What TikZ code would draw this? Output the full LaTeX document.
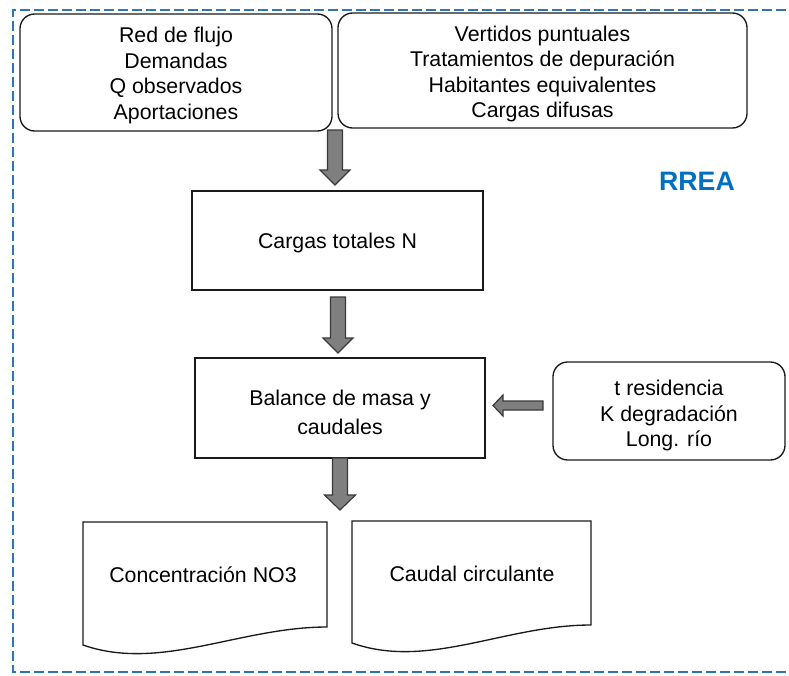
\documentclass[tikz,border=0pt]{standalone}
\usepackage{fontspec}
\setmainfont{Liberation Sans}
\definecolor{frameblue}{HTML}{2E75B6}
\definecolor{titleblue}{HTML}{0070C0}
\definecolor{arrowgray}{HTML}{7F7F7F}
\definecolor{arrowedge}{HTML}{3A3A3A}
\definecolor{linegray}{HTML}{1A1A1A}
\begin{document}
\begin{tikzpicture}[x=0.75pt,y=-0.75pt,
  every node/.style={font=\fontsize{16}{19.1}\selectfont, align=center, inner sep=0pt},
  sz/.style 2 args={minimum width=#1*0.75pt, minimum height=#2*0.75pt},
  card/.style={draw=linegray, line width=1pt, rounded corners=11pt},
  plainbox/.style={draw=linegray, line width=1pt},
  blockarrow/.style={fill=arrowgray, draw=arrowedge, line width=0.9pt, line join=miter},
  frame/.style={draw=frameblue, line width=2pt, dash pattern=on 7.5pt off 3pt}]
\useasboundingbox (0,0) rectangle (789,675);

% outer dashed frame: top and bottom run off the right edge of the page
\begin{scope}
  \clip (0,0) rectangle (789,675);
  \draw[frame] (800,10) -- (13,10) -- (13,672) -- (800,672);
\end{scope}

% input cards
\node[card, sz={312}{117}] (inputs) at (176,72.5) {};
\node at ([yshift=-2.3pt]inputs.center)
  {Red de flujo\\Demandas\\Q observados\\Aportaciones};
\node[card, sz={409}{115}] (loads) at (542.5,70.5) {};
\node at ([yshift=-2.6pt]loads.center)
  {Vertidos puntuales\\Tratamientos de depuración\\Habitantes equivalentes\\Cargas difusas};

% process boxes
\node[plainbox, sz={291}{99}] (total) at (337.5,240.5) {};
\node at ([yshift=-1.5pt]total.center) {Cargas totales N};
\node[plainbox, sz={290}{100}] (balance) at (340,408) {};
\node[font=\fontsize{16}{21.8}\selectfont] at ([yshift=-3.6pt]balance.center)
  {Balance de masa y\\caudales};
\node[card, sz={232}{98}] (params) at (669,411) {};
\node at ([yshift=-3.6pt]params.center) {t residencia\\K degradación\\Long. río};

\node[font=\fontsize{20}{24}\selectfont\bfseries, text=titleblue] (title) at (697,181) {RREA};

% output documents
\draw[plainbox] (83,522) -- (327,522) -- (327,627)
  .. controls (240,627) and (160,672) .. (83,645) -- cycle;
\node (conc) at (203,575) {Concentración NO3};
\draw[plainbox] (352,521) -- (591,521) -- (591,625)
  .. controls (505,625) and (428,670) .. (352,643) -- cycle;
\node (flow) at (472,574) {Caudal circulante};

% block arrows
\newcommand\blkdown[5]{% x, top, head base, tip, head half-width
  \draw[blockarrow] (#1-7.5,#2) -- (#1+7.5,#2) -- (#1+7.5,#3) -- (#1+#5,#3)
    -- (#1,#4) -- (#1-#5,#3) -- (#1-7.5,#3) -- cycle;}
\blkdown{335}{130}{170}{185}{15}
\blkdown{338}{297}{338}{353}{15}
\blkdown{340}{458}{495}{510}{15.5}
\draw[blockarrow] (543,401) -- (503,401) -- (503,395) -- (493,405.5)
  -- (503,416) -- (503,410) -- (543,410) -- cycle;
\end{tikzpicture}
\end{document}
